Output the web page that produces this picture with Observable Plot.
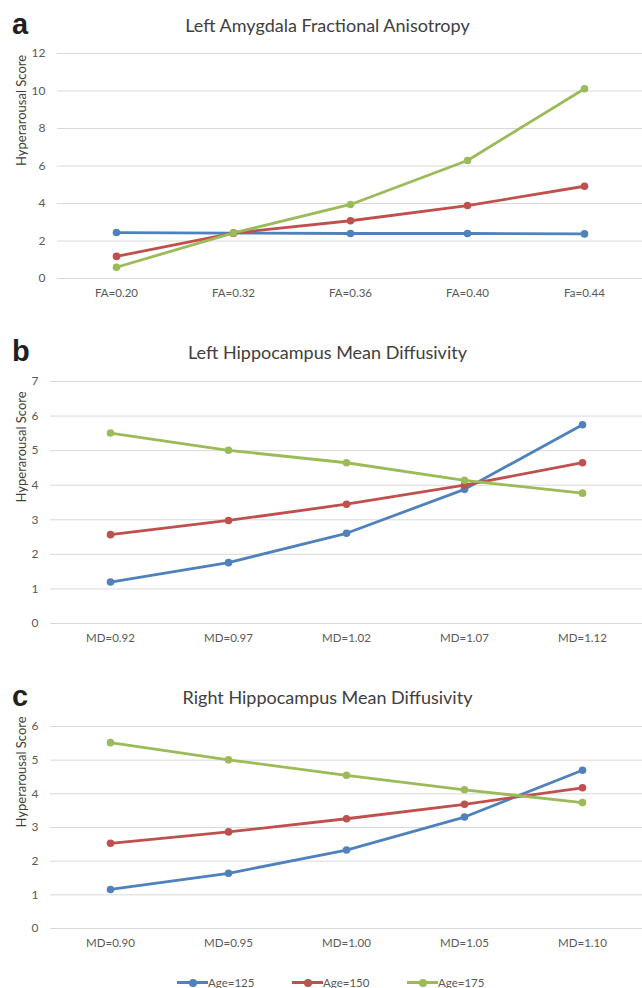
<!DOCTYPE html>
<html>
<head>
<meta charset="utf-8">
<script src="https://cdn.jsdelivr.net/npm/d3@7"></script>
<script src="https://cdn.jsdelivr.net/npm/@observablehq/plot@0.6"></script>
<style>
  body { margin: 0; background: #fff; }
  #root { position: relative; width: 642px; height: 988px; overflow: hidden; font-family: Lato, "Open Sans", sans-serif; color: #404040; }
  .panel-label { position: absolute; left: 12px; font-family: "Liberation Sans", Arial, sans-serif; font-weight: bold; font-size: 29px; color: #231f20; line-height: 1; }
  .title { position: absolute; left: 0; width: 655px; text-align: center; font-size: 18px; color: #404040; line-height: 1; }
  .plot { position: absolute; left: 0; }
  .legend { position: absolute; top: 975px; left: 0; width: 642px; height: 14px; font-size: 11.5px; color: #595959; }
  .legend .item { position: absolute; top: 0; display: flex; align-items: center; }
  .legend .sw { position: relative; width: 31px; height: 14px; }
  .legend .sw .ln { position: absolute; left: 0; right: 0; top: 6px; height: 3px; }
  .legend .sw .dt { position: absolute; left: 12px; top: 3.5px; width: 8px; height: 8px; border-radius: 50%; }
</style>
</head>
<body>
<div id="root"></div>
<script>
// ---- data ----
const seriesNames = ["Age=125", "Age=150", "Age=175"];
const seriesColors = ["#4F81BD", "#C0504D", "#9BBB59"];

const catsA = ["FA=0.20", "FA=0.32", "FA=0.36", "FA=0.40", "Fa=0.44"];
const a125 = [2.45, 2.42, 2.40, 2.40, 2.38];
const a150 = [1.18, 2.42, 3.08, 3.89, 4.92];
const a175 = [0.60, 2.43, 3.95, 6.29, 10.12];
const ticksA = [0, 2, 4, 6, 8, 10, 12];

const catsB = ["MD=0.92", "MD=0.97", "MD=1.02", "MD=1.07", "MD=1.12"];
const b125 = [1.20, 1.76, 2.61, 3.88, 5.75];
const b150 = [2.57, 2.98, 3.45, 4.00, 4.65];
const b175 = [5.51, 5.01, 4.65, 4.14, 3.77];
const ticksB = [0, 1, 2, 3, 4, 5, 6, 7];

const catsC = ["MD=0.90", "MD=0.95", "MD=1.00", "MD=1.05", "MD=1.10"];
const c125 = [1.16, 1.64, 2.33, 3.31, 4.70];
const c150 = [2.53, 2.87, 3.26, 3.69, 4.18];
const c175 = [5.52, 5.01, 4.55, 4.12, 3.74];
const ticksC = [0, 1, 2, 3, 4, 5, 6];

const titles = ["Left Amygdala Fractional Anisotropy", "Left Hippocampus Mean Diffusivity", "Right Hippocampus Mean Diffusivity"];
const labels = ["a", "b", "c"];

// ---- layout ----
const root = document.getElementById("root");

function tidy(cats, arrs) {
  const rows = [];
  arrs.forEach((vals, si) => vals.forEach((v, i) => rows.push({cat: cats[i], value: v, series: seriesNames[si]})));
  return rows;
}

function panel({cats, arrs, ticks, top, height, marginLeft, labelTop, titleTop, label, title}) {
  const data = tidy(cats, arrs);
  const chart = Plot.plot({
    width: 642,
    height,
    marginTop: 13,
    marginBottom: 30,
    marginLeft,
    marginRight: 0,
    style: {fontFamily: "Lato, 'Open Sans', sans-serif", fontSize: "11.5px", color: "#595959", background: "transparent"},
    x: {type: "point", domain: cats, padding: 0.5},
    y: {domain: [ticks[0], ticks[ticks.length - 1]]},
    color: {domain: seriesNames, range: seriesColors},
    marks: [
      Plot.gridY(ticks, {stroke: "#D9D9D9", strokeOpacity: 1, strokeWidth: 1}),
      Plot.axisY(ticks, {tickSize: 0, tickPadding: 12, label: null, fill: "#595959", fontSize: 12}),
      Plot.axisX({tickSize: 0, tickPadding: 10, label: null, fill: "#595959"}),
      Plot.text(["Hyperarousal Score"], {frameAnchor: "left", rotate: -90, dx: -(marginLeft - 21), fill: "#404040", fontSize: 13}),
      Plot.line(data, {x: "cat", y: "value", stroke: "series", z: "series", strokeWidth: 2.8, strokeLinejoin: "round", strokeLinecap: "round"}),
      Plot.dot(data, {x: "cat", y: "value", fill: "series", r: 3.8})
    ]
  });
  chart.classList.add("plot");
  chart.style.top = top + "px";
  root.appendChild(chart);

  const l = document.createElement("div");
  l.className = "panel-label";
  l.style.top = labelTop + "px";
  l.textContent = label;
  root.appendChild(l);

  const t = document.createElement("div");
  t.className = "title";
  t.style.top = titleTop + "px";
  t.textContent = title;
  root.appendChild(t);
}

panel({cats: catsA, arrs: [a125, a150, a175], ticks: ticksA, top: 40, height: 268, marginLeft: 57, labelTop: 10, titleTop: 16, label: labels[0], title: titles[0]});
panel({cats: catsB, arrs: [b125, b150, b175], ticks: ticksB, top: 368, height: 285, marginLeft: 50, labelTop: 337, titleTop: 343, label: labels[1], title: titles[1]});
panel({cats: catsC, arrs: [c125, c150, c175], ticks: ticksC, top: 713, height: 245, marginLeft: 50, labelTop: 682, titleTop: 688, label: labels[2], title: titles[2]});

// legend
const legend = document.createElement("div");
legend.className = "legend";
const legendX = [177, 292, 407];
seriesNames.forEach((name, i) => {
  const item = document.createElement("div");
  item.className = "item";
  item.style.left = legendX[i] + "px";
  item.innerHTML = `<div class="sw"><div class="ln" style="background:${seriesColors[i]}"></div><div class="dt" style="background:${seriesColors[i]}"></div></div><span>${name}</span>`;
  legend.appendChild(item);
});
root.appendChild(legend);
</script>
</body>
</html>
